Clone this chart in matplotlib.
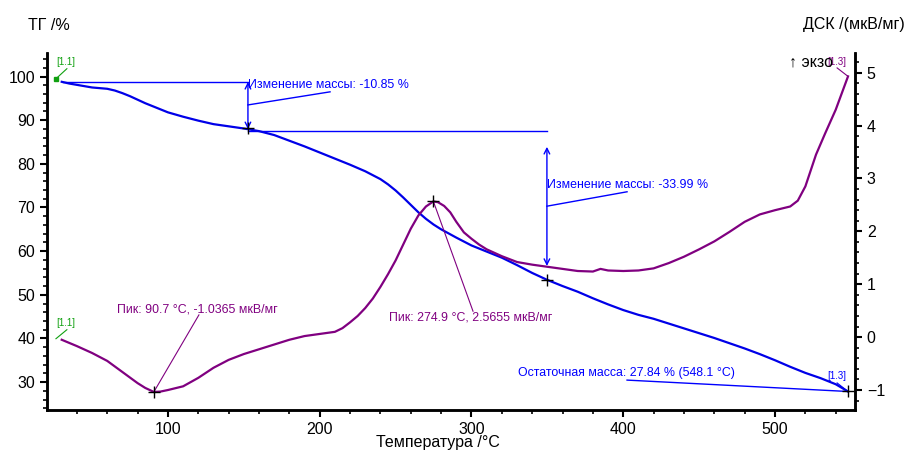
import matplotlib
matplotlib.use('Agg')
import matplotlib.pyplot as plt
from matplotlib.ticker import MultipleLocator

plt.rcParams['font.family'] = ['Liberation Sans', 'DejaVu Sans']

# TG curve (temperature, mass %)
tg_temp = [30, 35, 40, 45, 50, 55, 60, 65, 70, 75, 80, 85, 90, 95, 100, 110, 120, 130,
           140, 150, 160, 170, 180, 190, 200, 210, 220, 230, 240, 245, 250, 255, 260,
           265, 270, 275, 280, 290, 300, 310, 320, 330, 340, 350, 360, 370, 380, 390,
           400, 410, 420, 430, 440, 450, 460, 470, 480, 490, 500, 510, 520, 530, 540,
           548.1]
tg_mass = [98.8, 98.4, 98.1, 97.8, 97.5, 97.35, 97.2, 96.8, 96.2, 95.5, 94.7, 93.9, 93.2,
           92.5, 91.8, 90.8, 89.9, 89.1, 88.6, 88.1, 87.5, 86.6, 85.3, 84.0, 82.6, 81.2,
           79.8, 78.3, 76.5, 75.3, 73.9, 72.3, 70.6, 68.9, 67.4, 66.1, 65.0, 63.1, 61.3,
           59.9, 58.5, 56.8, 55.0, 53.4, 52.0, 50.7, 49.2, 47.8, 46.5, 45.4, 44.5, 43.4,
           42.3, 41.2, 40.1, 38.9, 37.7, 36.4, 35.0, 33.5, 32.1, 30.9, 29.5, 27.84]

# DSC curve (temperature, uV/mg)
dsc_temp = [30, 40, 50, 60, 70, 80, 85, 90.7, 95, 100, 110, 120, 130, 140, 150, 160, 170,
            180, 190, 200, 210, 215, 220, 225, 230, 235, 240, 245, 250, 255, 260, 265,
            270, 274.9, 278, 282, 286, 290, 295, 300, 305, 310, 320, 330, 340, 350, 360,
            370, 380, 385, 390, 400, 410, 420, 430, 440, 450, 460, 470, 480, 490, 500,
            510, 515, 520, 527, 533, 540, 548.1]
dsc_val = [-0.05, -0.17, -0.30, -0.45, -0.66, -0.87, -0.96, -1.0365, -1.03, -1.00, -0.93,
           -0.77, -0.58, -0.43, -0.32, -0.23, -0.14, -0.05, 0.02, 0.06, 0.10, 0.17, 0.28,
           0.40, 0.55, 0.73, 0.95, 1.19, 1.45, 1.75, 2.05, 2.30, 2.47, 2.5655, 2.55, 2.48,
           2.36, 2.18, 1.98, 1.86, 1.75, 1.66, 1.53, 1.42, 1.37, 1.33, 1.29, 1.25, 1.24,
           1.29, 1.26, 1.25, 1.26, 1.30, 1.40, 1.52, 1.66, 1.81, 1.99, 2.18, 2.32, 2.40,
           2.47, 2.58, 2.85, 3.45, 3.85, 4.30, 4.93]

# annotation points
step_temp = [152.7, 349.7]
step_mass = [98.78, 87.93, 53.5]
peak_temp = [90.7, 274.9]
peak_val = [-1.0365, 2.5655]
residual = (548.1, 27.84)

blue = '#0000ff'
purple = '#800080'
green = '#10a010'

fig = plt.figure(figsize=(9.06, 4.55), dpi=100)
ax = fig.add_axes([47 / 906, 1 - 410 / 455, (855 - 47) / 906, (410 - 53) / 455])
ax2 = ax.twinx()

ax.plot(tg_temp, tg_mass, color='#0000e8', lw=1.6, zorder=3)
ax2.plot(dsc_temp, dsc_val, color=purple, lw=1.6, zorder=3)

ax.set_xlim(20.3, 552.7)
ax.set_ylim(23.6, 105.4)
ax2.set_ylim(-1.378, 5.372)

for a in (ax, ax2):
    a.spines['top'].set_visible(False)
    for s in ('left', 'right', 'bottom'):
        a.spines[s].set_linewidth(1.8)
    a.tick_params(which='major', direction='out', length=5, width=1.5, labelsize=11.5)
    a.tick_params(which='minor', direction='out', length=3, width=1.2)

ax.xaxis.set_major_locator(MultipleLocator(100))
ax.xaxis.set_minor_locator(MultipleLocator(20))
ax.yaxis.set_major_locator(MultipleLocator(10))
ax.yaxis.set_minor_locator(MultipleLocator(2))
ax2.yaxis.set_major_locator(MultipleLocator(1))
ax2.yaxis.set_minor_locator(MultipleLocator(0.2))

fig.text(28 / 906, 1 - 25 / 455, 'ТГ /%', fontsize=11.5, ha='left', va='center')
fig.text(905 / 906, 1 - 25 / 455, 'ДСК /(мкВ/мг)', fontsize=11.5, ha='right', va='center')
fig.text(438 / 906, 1 - 443 / 455, 'Температура /°C', fontsize=11.5, ha='center', va='center')

# mass change 1
ax.plot([30.8, step_temp[0]], [step_mass[0], step_mass[0]], color=blue, lw=1)
ax.annotate('', xy=(step_temp[0], step_mass[1]), xytext=(step_temp[0], step_mass[0]),
            arrowprops=dict(arrowstyle='<->', color=blue, lw=1, shrinkA=0, shrinkB=0))
ax.plot([step_temp[0], 206.8], [93.5, 96.5], color=blue, lw=1)
ax.text(step_temp[0], 98.1, 'Изменение массы: -10.85 %', color=blue, fontsize=8.9,
        ha='left', va='center')

# mass change 2
ax.plot([step_temp[0], step_temp[1]], [87.55, 87.55], color=blue, lw=1)
ax.annotate('', xy=(step_temp[1], 56.6), xytext=(step_temp[1], 83.9),
            arrowprops=dict(arrowstyle='<->', color=blue, lw=1, shrinkA=0, shrinkB=0))
ax.plot([step_temp[1], 402.5], [70.3, 73.6], color=blue, lw=1)
ax.text(step_temp[1], 75.2, 'Изменение массы: -33.99 %', color=blue, fontsize=8.9,
        ha='left', va='center')

# residual mass
ax.plot([402.5, residual[0]], [30.45, residual[1]], color=blue, lw=1)
ax.text(330.6, 32.1, 'Остаточная масса: 27.84 % (548.1 °C)', color=blue, fontsize=8.9,
        ha='left', va='center')
ax.plot([540.9, residual[0]], [29.8, residual[1]], color=blue, lw=0.8)
ax.text(540.9, 31.4, '[1.3]', color=blue, fontsize=7, ha='center', va='center')

# crosses
ax.plot([step_temp[0], step_temp[1], residual[0]], [88.2, step_mass[2], residual[1]],
        ls='none', marker='+', color='k', ms=8, mew=1, zorder=5)
ax2.plot(peak_temp, peak_val, ls='none', marker='+', color='k', ms=8, mew=1, zorder=5)

# peaks
ax2.plot([peak_temp[0], 120.4], [peak_val[0], 0.42], color=purple, lw=0.8)
ax2.text(119.4, 0.52, 'Пик: 90.7 °C, -1.0365 мкВ/мг', color=purple, fontsize=8.9,
         ha='center', va='center')
ax2.plot([peak_temp[1], 301], [peak_val[1], 0.49], color=purple, lw=0.8)
ax2.text(299.7, 0.38, 'Пик: 274.9 °C, 2.5655 мкВ/мг', color=purple, fontsize=8.9,
         ha='center', va='center')
ax2.plot([540.9, 548.1], [5.09, 4.93], color=purple, lw=0.8)
ax2.text(540.9, 5.2, '[1.3]', color=purple, fontsize=7, ha='center', va='center')

# start markers
ax.plot([33.4, 26.2], [101.8, 99.5], color=green, lw=0.8)
ax.plot([26.2], [99.5], marker='s', color=green, ms=2.5)
ax.text(32.8, 103.4, '[1.1]', color=green, fontsize=7, ha='center', va='center')
ax2.plot([33.4, 26.2], [0.14, -0.03], color=green, lw=0.8)
ax2.text(32.8, 0.27, '[1.1]', color=green, fontsize=7, ha='center', va='center')

ax2.text(523.7, 5.2, '↑ экзо', color='k', fontsize=11.5, ha='center', va='center')

fig.savefig('out.png', dpi=100)
